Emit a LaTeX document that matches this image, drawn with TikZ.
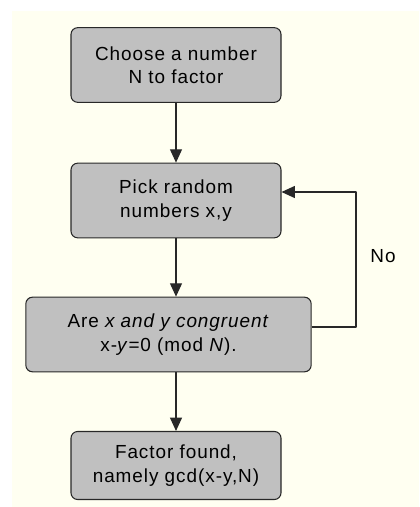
\documentclass[tikz,border=0pt]{standalone}
\usepackage{fontspec}
\setmainfont[LetterSpace=5]{Liberation Sans}
\usepackage{xcolor}
\usetikzlibrary{arrows.meta,positioning}
\definecolor{paper}{RGB}{255,255,241}
\definecolor{boxgray}{RGB}{192,192,192}
\definecolor{edge}{RGB}{40,40,40}

\begin{document}
\begin{tikzpicture}[x=0.75pt, y=-0.75pt, line join = round,
    stepbox/.style={draw=edge, fill=boxgray, rounded corners=5pt, line width=0.8pt,
        minimum width=157.5pt, minimum height=56pt, inner sep=0pt, align=center,
        font=\fontsize{14.2pt}{17.5pt}\selectfont},
    flow/.style={draw=edge, line width=0.8pt, -{Triangle[width=9pt, length=10pt]}}]

                        % page and paper
                        \useasboundingbox (0,0) rectangle (419,507);
                        \fill[white] (0,0) rectangle (419,507);
                        \fill[paper] (12,11) rectangle (419,507);

                        % boxes
                        \node[stepbox] (choose) at (176,65) {Choose a number\\N to factor};
                        \node[stepbox] (pick) at (176,200.5) {Pick random\\numbers x,y};
                        \node[stepbox, minimum width=214pt] (test) at (168.5,334.5)
                            {Are \textit{x and y congruent}\\x-\textit{y}=0 (mod \textit{N}).};
                        \node[stepbox, minimum height=51pt] (found) at (176,465.5)
                            {Factor found,\\namely gcd(x-y,N)};

                        % loop back
                        \coordinate (loopdown) at (356,327);
                        \coordinate (loopup) at (356,192);
                        \node[font=\fontsize{14.2pt}{17.5pt}\selectfont] (no) at (383,256) {No};

                        % arrows
                        \draw[flow] (choose) -- (pick);
                        \draw[flow] (pick.south) -- (pick.south |- test.north);
                        \draw[flow] (pick.south |- test.south) -- (found);
                        \draw[flow] (test.east |- loopdown) -- (loopdown) -- (loopup) -- (pick.east |- loopup);

                    \end{tikzpicture}
\end{document}
